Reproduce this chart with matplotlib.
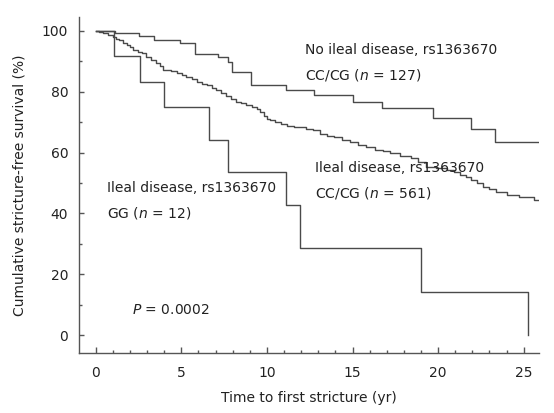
import matplotlib
matplotlib.use("Agg")
import matplotlib.pyplot as plt
from matplotlib.ticker import MultipleLocator

# ---- data ----
# No ileal disease, rs1363670 CC/CG (n = 127)
t_no_ileal = [0, 1.1, 2.5, 3.4, 4.9, 5.8, 7.15, 7.7, 7.95, 9.05, 11.1, 12.75,
              15.05, 16.7, 19.7, 21.9, 23.3, 25.94]
s_no_ileal = [100, 99.2, 98.4, 97.2, 96.0, 92.5, 91.6, 89.9, 86.6, 82.2, 80.6, 78.9,
              76.7, 74.6, 71.3, 67.7, 63.6, 63.6]

# Ileal disease, rs1363670 CC/CG (n = 561)
t_ileal_cc = [0, 0.2, 0.45, 0.7, 1.0, 1.2, 1.35, 1.6, 1.8, 2.0, 2.2, 2.45, 2.7, 2.95,
              3.2, 3.5, 3.75, 3.95, 4.4, 4.75, 5.05, 5.3, 5.6, 5.9, 6.2, 6.5, 6.8,
              7.05, 7.3, 7.6, 7.9, 8.2, 8.5, 8.8, 9.1, 9.4, 9.6, 9.8, 10.0, 10.2,
              10.5, 10.8, 11.15, 11.6, 12.3, 12.7, 13.1, 13.5, 13.9, 14.4, 14.85,
              15.3, 15.8, 16.3, 16.8, 17.2, 17.8, 18.4, 18.8, 19.3, 19.9, 20.5,
              20.9, 21.3, 21.6, 21.9, 22.3, 22.6, 23.0, 23.4, 24.0, 24.7, 25.6, 25.94]
s_ileal_cc = [100, 99.6, 99.2, 98.8, 98.1, 97.5, 97.0, 96.2, 95.4, 94.6, 93.8, 93.2,
              92.6, 91.5, 90.6, 89.6, 88.5, 87.3, 86.8, 86.3, 85.5, 84.9, 84.1, 83.3,
              82.7, 82.1, 81.3, 80.6, 79.7, 78.6, 77.7, 76.8, 76.2, 75.6, 75.0, 74.4,
              73.2, 71.9, 71.2, 70.6, 70.1, 69.5, 68.6, 68.3, 67.9, 67.3, 66.2, 65.6,
              65.0, 64.2, 63.5, 62.6, 61.7, 61.0, 60.4, 59.8, 59.0, 58.1, 56.8, 55.4,
              54.8, 54.2, 53.6, 52.6, 51.9, 51.0, 49.9, 48.8, 47.9, 47.2, 46.1, 45.5,
              44.4, 44.4]

# Ileal disease, rs1363670 GG (n = 12)
t_ileal_gg = [0, 1.09, 2.59, 3.99, 6.62, 7.71, 11.1, 11.93, 19.0, 25.27]
s_ileal_gg = [100, 91.7, 83.3, 75.0, 64.3, 53.6, 42.9, 28.6, 14.3, 0]

x_ticks = [0, 5, 10, 15, 20, 25]
y_ticks = [0, 20, 40, 60, 80, 100]

plt.rcParams['font.family'] = ['DejaVu Sans']
plt.rcParams['mathtext.fontset'] = 'dejavusans'

W, H = 554, 413
fig = plt.figure(figsize=(W / 100, H / 100), dpi=100)
left, right, top, bottom = 79.3, 539.3, 17, 353
ax = fig.add_axes([left / W, 1 - bottom / H, (right - left) / W, (bottom - top) / H])

line_color = '#4a4a4a'
for t, s in [(t_no_ileal, s_no_ileal), (t_ileal_cc, s_ileal_cc), (t_ileal_gg, s_ileal_gg)]:
    ax.step(t, s, where='post', color=line_color, lw=1.0)

ax.set_xlim(-0.96, 25.91)
ax.set_ylim(-5.9, 104.6)

for sp in ['top', 'right']:
    ax.spines[sp].set_visible(False)
for sp in ['left', 'bottom']:
    ax.spines[sp].set_color('#555555')
    ax.spines[sp].set_linewidth(1.0)

ax.set_xticks(x_ticks)
ax.set_yticks(y_ticks)
ax.xaxis.set_minor_locator(MultipleLocator(1))
ax.yaxis.set_minor_locator(MultipleLocator(10))
ax.tick_params(which='both', direction='in', colors='#555555', labelcolor='#222222',
               labelsize=10, width=1.0)
ax.tick_params(axis='x', which='major', length=4.5, pad=9.5)
ax.tick_params(axis='x', which='minor', length=2.2)
ax.tick_params(axis='y', which='major', length=3.8, pad=8)
ax.tick_params(axis='y', which='minor', length=2.2)

ax.set_xlabel('Time to first stricture (yr)', fontsize=10, color='#222222', labelpad=8)
ax.set_ylabel('Cumulative stricture-free survival (%)', fontsize=10, color='#222222',
              labelpad=11)

def px(xp, yp):
    return (xp / W, 1 - yp / H)

tc = '#222222'
fig.text(*px(305, 50), 'No ileal disease, rs1363670', fontsize=10, color=tc, va='center')
fig.text(*px(305, 75), 'CC/CG ($\\it{n}$ = 127)', fontsize=10, color=tc, va='center')
fig.text(*px(315, 168), 'Ileal disease, rs1363670', fontsize=10, color=tc, va='center')
fig.text(*px(315, 193), 'CC/CG ($\\it{n}$ = 561)', fontsize=10, color=tc, va='center')
fig.text(*px(106.7, 188), 'Ileal disease, rs1363670', fontsize=10, color=tc, va='center')
fig.text(*px(106.7, 213), 'GG ($\\it{n}$ = 12)', fontsize=10, color=tc, va='center')
fig.text(*px(131.7, 310), '$\\it{P}$ = 0.0002', fontsize=10, color=tc, va='center')

fig.savefig('out.png', dpi=100, facecolor='white')
